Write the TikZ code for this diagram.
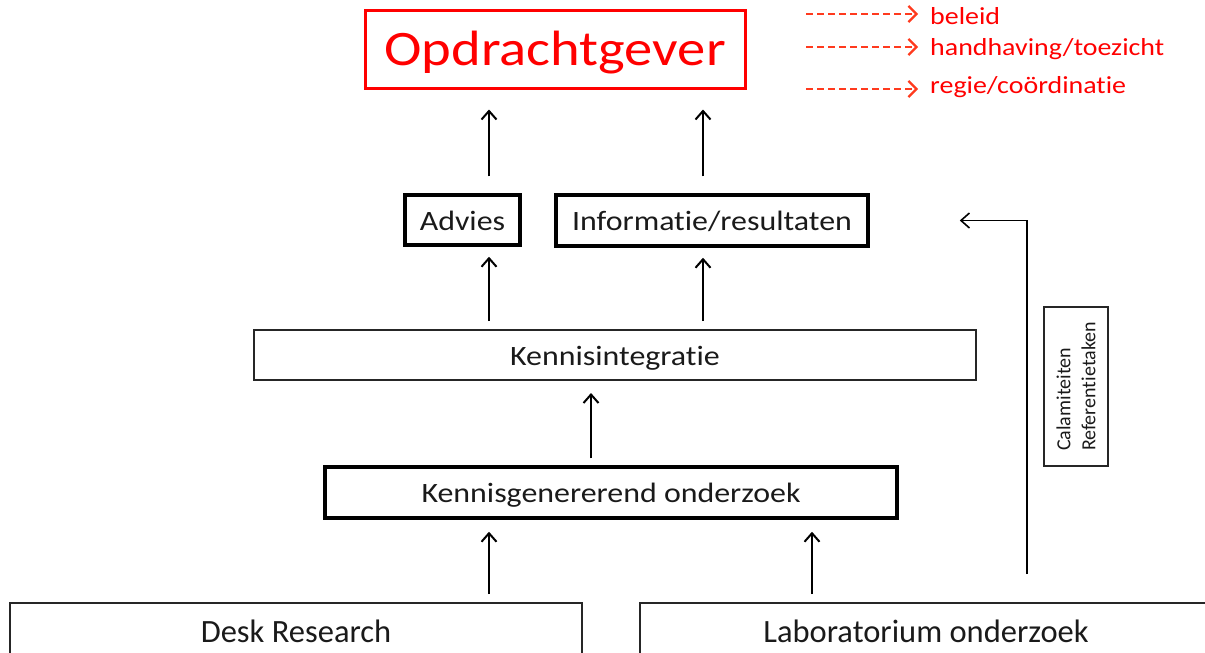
\documentclass[tikz,border=0pt]{standalone}
\usepackage{fontspec}
\setmainfont{Carlito}[Ligatures=NoCommon]
\newfontfamily\widefont{Carlito}[FakeStretch=1.14, Ligatures=NoCommon]
\usetikzlibrary{arrows.meta}
\definecolor{inkgrey}{HTML}{1A1A1A}
\definecolor{legendred}{HTML}{FF3A1E}
\begin{document}
\begin{tikzpicture}[x=1pt,y=-1pt,
  box/.style={draw=black, line width=3.5pt, inner sep=0pt, text=inkgrey,
    font=\widefont\fontsize{28}{34}\selectfont, text height=20pt, text depth=0pt},
  thinbox/.style={box, line width=2pt, draw=black!85},
  basebox/.style={thinbox, font=\fontsize{32.5}{38}\selectfont},
  arr/.style={line width=2pt, draw=black, -{Straight Barb[length=8.5pt, width=15pt]}},
  legarr/.style={line width=1.8pt, draw=legendred, dash pattern=on 7pt off 4pt,
    -{Straight Barb[length=8pt, width=16pt, line width=2.2pt]}},
  legtext/.style={anchor=base west, inner sep=0pt, text=red,
    font=\widefont\fontsize{24.5}{30}\selectfont}]
\useasboundingbox (0,0) rectangle (1205,653);
\clip (0,0) rectangle (1205,653);

% client box
\node[draw=red, line width=3pt, inner sep=0pt, text=red, minimum width=380, minimum height=78,
  font=\widefont\fontsize{49.6}{56}\selectfont, text height=32pt, text depth=0pt]
  (opd) at (555,49) {Opdrachtgever};

% legend
\node[legtext] (l1) at (930,24) {beleid};
\node[legtext] (l2) at (930,55) {handhaving/toezicht};
\node[legtext] (l3) at (930,93) {regie/coördinatie};
\coordinate (s1) at (806,14);
\coordinate (s2) at (806,47);
\coordinate (s3) at (806,89);
\draw[legarr] (s1) -- (s1 -| l1.west) [shorten >=12pt];
\draw[legarr] (s2) -- (s2 -| l2.west) [shorten >=12pt];
\draw[legarr] (s3) -- (s3 -| l3.west) [shorten >=12pt];

% outputs
\node[box, minimum width=115, minimum height=50] (advies) at (462.5,220) {Advies};
\node[box, minimum width=312, minimum height=51] (info) at (712,220.5) {Informatie/resultaten};

% integration and research
\node[thinbox, minimum width=722, minimum height=50] (kint) at (615,355) {Kennisintegratie};
\node[box, minimum width=572, minimum height=51] (kgen) at (611,492.5) {Kennisgenererend onderzoek};

% sources
\node[basebox, minimum width=572, minimum height=58] (desk) at (296,632) {Desk Research};
\node[basebox, minimum width=572, minimum height=58] (lab) at (926,632) {Laboratorium onderzoek};

% side note
\node[draw=black!85, line width=1.5pt, rotate=90, inner sep=0pt, minimum width=159, minimum height=64,
  align=left, text=inkgrey, font=\fontsize{20}{25}\selectfont]
  (cal) at (1076,386.5) {Calamiteiten\\Referentietaken};

% arrow columns
\coordinate (c1) at (489,0);
\coordinate (c2) at (703,0);
\coordinate (c3) at (591,0);
\coordinate (c4) at (812,0);
\coordinate (c5) at (1027,0);

\draw[arr, shorten <=17pt, shorten >=20pt] (advies.north -| c1) -- (opd.south -| c1);
\draw[arr, shorten <=17pt, shorten >=20pt] (info.north -| c2) -- (opd.south -| c2);
\draw[arr, shorten <=8pt, shorten >=10pt] (kint.north -| c1) -- (advies.south -| c1);
\draw[arr, shorten <=8pt, shorten >=10pt] (kint.north -| c2) -- (info.south -| c2);
\draw[arr, shorten <=7pt, shorten >=12pt] (kgen.north -| c3) -- (kint.south -| c3);
\draw[arr, shorten <=8pt, shorten >=12pt] (desk.north -| c1) -- (kgen.south -| c1);
\draw[arr, shorten <=8pt, shorten >=12pt] (lab.north -| c4) -- (kgen.south -| c4);
\draw[arr, line width=1.6pt, shorten <=28pt, shorten >=90pt] (lab.north -| c5) |- (info.east);
\end{tikzpicture}
\end{document}
